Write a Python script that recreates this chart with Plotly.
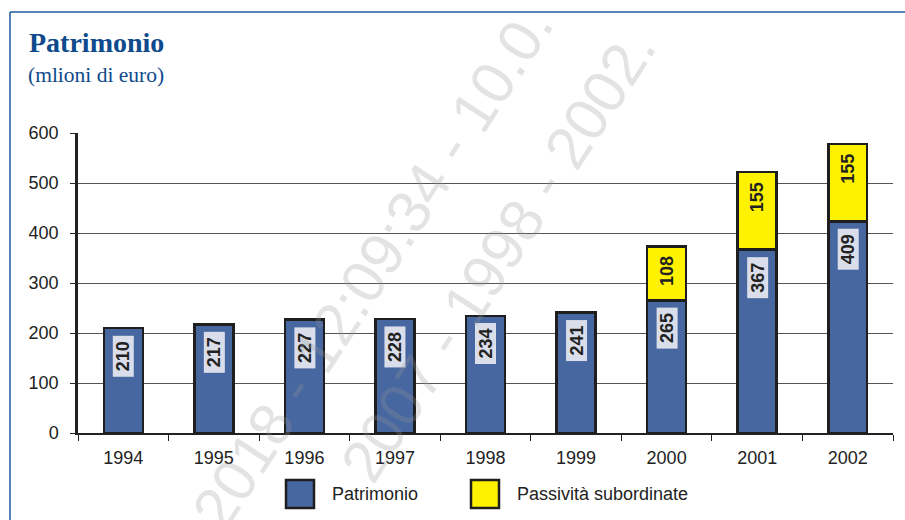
import plotly.graph_objects as go

# ---- data ----
years = ["1994", "1995", "1996", "1997", "1998", "1999", "2000", "2001", "2002"]
patrimonio = [210, 217, 227, 228, 234, 241, 265, 367, 423]
passivita = [0, 0, 0, 0, 0, 0, 108, 155, 155]
patrimonio_labels = ["210", "217", "227", "228", "234", "241", "265", "367", "409"]
passivita_labels = ["", "", "", "", "", "", "108", "155", "155"]
series_names = ["Patrimonio", "Passività subordinate"]
y_ticks = [0, 100, 200, 300, 400, 500, 600]
title_text = "Patrimonio"
subtitle_text = "(mlioni di euro)"
watermark_lines = ["2018 - 12:09:34 - 10.0.", "2007 - 1998 - 2002."]

# ---- styles ----
BLUE = "#46679f"
YELLOW = "#fff200"
OUTLINE = "#1e1e1e"
TITLE_BLUE = "#0e4a8c"
FONT = "Liberation Sans, Arial, sans-serif"

W, H = 905, 520
ML, MR, MT, MB = 78, 12, 133, 87
PW, PH = W - ML - MR, H - MT - MB


def px_x(px):
    return (px - ML) / PW


def px_y(py):
    return (H - MB - py) / PH


fig = go.Figure()
fig.add_trace(go.Bar(
    x=years, y=patrimonio, name=series_names[0],
    marker=dict(color=BLUE, line=dict(color=OUTLINE, width=2.5)),
    showlegend=False,
))
fig.add_trace(go.Bar(
    x=years, y=passivita, name=series_names[1],
    marker=dict(color=YELLOW, line=dict(color=OUTLINE, width=2.5)),
    showlegend=False,
))

annotations = []
# bar value labels (x given as category index)
for i, (v, lab) in enumerate(zip(patrimonio, patrimonio_labels)):
    annotations.append(dict(
        x=i, y=v, xref="x", yref="y", text="<b>\u00a0" + lab + "\u00a0</b>",
        showarrow=False, textangle=-90, yanchor="top", xanchor="center",
        yshift=-7, bgcolor="#d9deea", borderpad=0,
        font=dict(family=FONT, size=18, color="#222222"),
    ))
for i, (base, v, lab) in enumerate(zip(patrimonio, passivita, passivita_labels)):
    if v > 0:
        annotations.append(dict(
            x=i, y=base + v, xref="x", yref="y", text="<b>" + lab + "</b>",
            showarrow=False, textangle=-90, yanchor="top", xanchor="center",
            yshift=-9, borderpad=0,
            font=dict(family=FONT, size=18, color="#222222"),
        ))

# title / subtitle
annotations.append(dict(
    x=px_x(27), y=px_y(43), xref="paper", yref="paper", text="<b>" + title_text + "</b>",
    showarrow=False, xanchor="left", yanchor="middle",
    font=dict(family="Liberation Serif, Times New Roman, serif", size=28, color=TITLE_BLUE),
))
annotations.append(dict(
    x=px_x(26), y=px_y(75), xref="paper", yref="paper", text=subtitle_text,
    showarrow=False, xanchor="left", yanchor="middle",
    font=dict(family="Liberation Serif, Times New Roman, serif", size=21.5, color=TITLE_BLUE),
))

# manual legend
legend_items = [
    (series_names[0], BLUE, 286, 330),
    (series_names[1], YELLOW, 471, 515),
]
shapes = []
for name, col, sx, tx in legend_items:
    shapes.append(dict(
        type="rect", xref="paper", yref="paper",
        x0=px_x(sx), x1=px_x(sx + 28), y0=px_y(508), y1=px_y(480),
        fillcolor=col, line=dict(color=OUTLINE, width=2.5),
    ))
    annotations.append(dict(
        x=px_x(tx), y=px_y(494), xref="paper", yref="paper", text=name,
        showarrow=False, xanchor="left", yanchor="middle",
        font=dict(family=FONT, size=18, color="#222222"),
    ))

# frame (blue border top and left)
shapes.append(dict(type="line", xref="paper", yref="paper",
                   x0=px_x(10), x1=px_x(906), y0=px_y(12), y1=px_y(12),
                   line=dict(color="#1f5aa0", width=1.5)))
shapes.append(dict(type="line", xref="paper", yref="paper",
                   x0=px_x(10), x1=px_x(10), y0=px_y(12), y1=px_y(522),
                   line=dict(color="#1f5aa0", width=1.5)))

# watermark
for txt, cx, cy in zip(watermark_lines, [372, 498], [268, 255]):
    annotations.append(dict(
        x=px_x(cx), y=px_y(cy), xref="paper", yref="paper", text=txt,
        showarrow=False, textangle=-57, xanchor="center", yanchor="middle",
        font=dict(family=FONT, size=60, color="rgba(150,150,150,0.27)"),
    ))

fig.update_layout(
    width=W, height=H,
    margin=dict(l=ML, r=MR, t=MT, b=MB, pad=0),
    paper_bgcolor="white", plot_bgcolor="white",
    barmode="stack", bargap=0.57,
    showlegend=False,
    annotations=annotations, shapes=shapes,
    font=dict(family=FONT, size=18, color="#222222"),
)
fig.update_xaxes(
    type="category", range=[-0.5, len(years) - 0.5], autorange=False,
    showgrid=False, showline=True, linecolor="#222222", linewidth=2,
    ticks="outside", tickson="boundaries", ticklen=6, tickwidth=1.2, tickcolor="#222222",
    tickfont=dict(family=FONT, size=18, color="#222222"), ticklabelstandoff=7,
)
fig.update_yaxes(
    range=[0, 600], autorange=False, tickvals=y_ticks, showgrid=True, gridcolor="#555555", gridwidth=1.3,
    showline=True, linecolor="#222222", linewidth=2.5, zeroline=False,
    ticks="outside", ticklen=5, tickwidth=1.2, tickcolor="#222222",
    tickfont=dict(family=FONT, size=18, color="#222222"), ticklabelstandoff=8,
)

fig.write_html("out.html")
